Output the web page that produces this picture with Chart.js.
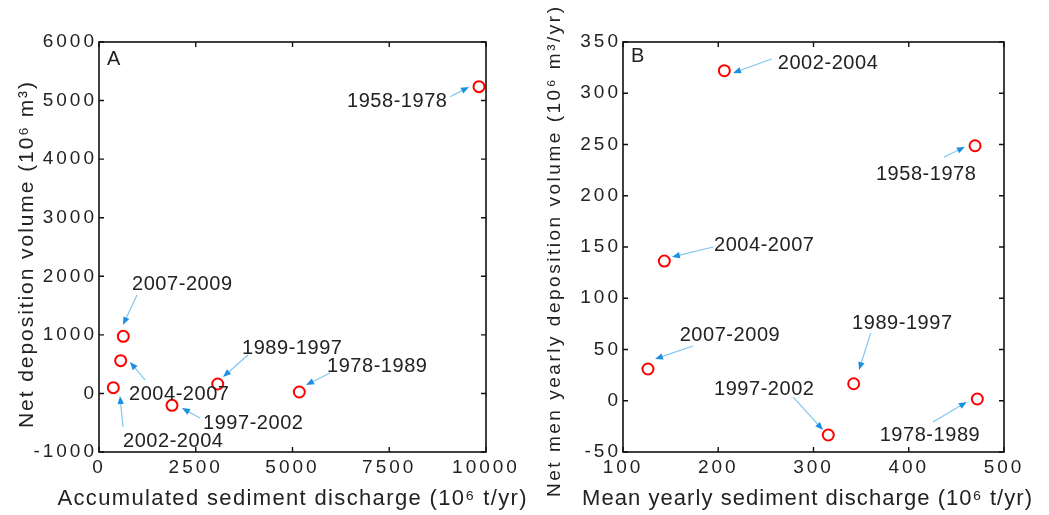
<!DOCTYPE html>
<html><head><meta charset="utf-8">
<script src="https://cdn.jsdelivr.net/npm/chart.js@4.4.0/dist/chart.umd.min.js"></script>
<style>
html,body{margin:0;padding:0;background:#fff;}
#wrap{position:relative;width:1049px;height:515px;overflow:hidden;background:#fff}
canvas{position:absolute;top:0}
#cA{left:0}
#cB{left:520px}
</style></head><body>
<div id="wrap"><canvas id="cA" width="560" height="515"></canvas><canvas id="cB" width="529" height="515"></canvas></div>
<script>
// ---- data ----
const periods = ['1958-1978','1978-1989','1989-1997','1997-2002','2002-2004','2004-2007','2007-2009'];
const accumDischarge = [9819, 5176, 3067, 1886, 370, 560, 628];     // 10^6 t/yr
const netDeposition  = [5237, 24, 161, -203, 98, 559, 975];         // 10^6 m^3
const meanDischarge  = [469.6, 472, 342.2, 315.5, 206.4, 143.4, 126.2]; // 10^6 t/yr
const meanDeposition = [248.8, 1.7, 16.6, -33.4, 322, 136.3, 31];   // 10^6 m^3/yr
const xTicksA = [0, 2500, 5000, 7500, 10000];
const yTicksA = [-1000, 0, 1000, 2000, 3000, 4000, 5000, 6000];
const xTicksB = [100, 200, 300, 400, 500];
const yTicksB = [-50, 0, 50, 100, 150, 200, 250, 300, 350];

// annotation anchors (data units): label centre, arrow start, arrow tip
const annotA = [
  {t:7700, u:5010, x0:9070, y0:5066, x1:9561, y1:5232},
  {t:7183, u:486,  x0:5969, y0:349,  x1:5349, y1:144},
  {t:4987, u:793,  x0:3850, y0:656,  x1:3204, y1:281},
  {t:3979, u:-488, x0:2610, y0:-420, x1:2145, y1:-249},
  {t:1912, u:-795, x0:620,  y0:-573, x1:543,  y1:-44},
  {t:2067, u:7,    x0:1189, y0:230,  x1:801,  y1:536},
  {t:2145, u:1885, x0:982,  y0:1680, x1:620,  y1:1168}
];
const annotB = [
  {t:418, u:222,   x0:437,   y0:237.8, x1:459,   y1:247.6},
  {t:422, u:-32.4, x0:425.5, y0:-20.7, x1:461,   y1:-1.2},
  {t:393, u:76.8,  x0:360,   y0:66,    x1:347.8, y1:30},
  {t:248, u:12.4,  x0:278.5, y0:3.7,   x1:310,   y1:-28.5},
  {t:315, u:330.5, x0:256,   y0:333.4, x1:215.5, y1:319.8},
  {t:248, u:153,   x0:194.5, y0:150,   x1:151.4, y1:140.2},
  {t:212, u:65,    x0:173.5, y0:53.4,  x1:133.6, y1:40.7}
];

const FONT = '"Liberation Sans", Arial, Helvetica, sans-serif';
const TEXT = '#222222';

function fitText(ctx, text, cx, cy, size, target, rot) {
  ctx.save();
  ctx.font = size + 'px ' + FONT;
  ctx.letterSpacing = '0px';
  const w0 = ctx.measureText(text).width;
  const n = [...text].length;
  const ls = n > 1 ? (target - w0) / (n - 1) : 0;
  ctx.letterSpacing = ls + 'px';
  ctx.translate(cx, cy);
  if (rot) ctx.rotate(-Math.PI / 2);
  ctx.textAlign = 'left';
  ctx.textBaseline = 'alphabetic';
  ctx.fillStyle = TEXT;
  ctx.fillText(text, -target / 2, 0.36 * size);
  ctx.restore();
}

function arrow(ctx, ax, ay, bx, by) {
  const ang = Math.atan2(by - ay, bx - ax);
  const L = 8, W = 3.2;
  const hx = bx - L * Math.cos(ang), hy = by - L * Math.sin(ang);
  ctx.save();
  ctx.strokeStyle = '#80c6f0';
  ctx.lineWidth = 1.2;
  ctx.beginPath(); ctx.moveTo(ax, ay); ctx.lineTo(hx, hy); ctx.stroke();
  ctx.fillStyle = '#1b8fe2';
  ctx.beginPath();
  ctx.moveTo(bx, by);
  ctx.lineTo(hx + W * Math.sin(ang), hy - W * Math.cos(ang));
  ctx.lineTo(hx - W * Math.sin(ang), hy + W * Math.cos(ang));
  ctx.closePath(); ctx.fill();
  ctx.restore();
}

function makePanel(canvasId, xs, ys, xt, yt, annot, cfg) {
  const pts = xs.map((v, i) => ({x: v, y: ys[i]}));
  const deco = {
    id: 'deco' + canvasId,
    beforeDraw(chart) { chart.ctx.letterSpacing = '3px'; },
    beforeDatasetsDraw(chart) { chart.ctx.letterSpacing = '0px'; },
    afterDraw(chart) {
      const ctx = chart.ctx;
      ctx.letterSpacing = '0px';
      const a = chart.chartArea, sx = chart.scales.x, sy = chart.scales.y;
      // frame
      ctx.save();
      ctx.strokeStyle = '#111';
      ctx.lineWidth = 1.6;
      ctx.strokeRect(a.left, a.top, a.right - a.left, a.bottom - a.top);
      ctx.lineWidth = 1.4;
      ctx.beginPath();
      sx.ticks.forEach(t => {
        const p = sx.getPixelForValue(t.value);
        ctx.moveTo(p, a.bottom); ctx.lineTo(p, a.bottom - 5);
        ctx.moveTo(p, a.top); ctx.lineTo(p, a.top + 5);
      });
      sy.ticks.forEach(t => {
        const p = sy.getPixelForValue(t.value);
        ctx.moveTo(a.left, p); ctx.lineTo(a.left + 5, p);
        ctx.moveTo(a.right, p); ctx.lineTo(a.right - 5, p);
      });
      ctx.stroke();
      ctx.restore();
      // arrows and labels
      annot.forEach((o, i) => {
        arrow(ctx, sx.getPixelForValue(o.x0), sy.getPixelForValue(o.y0),
                   sx.getPixelForValue(o.x1), sy.getPixelForValue(o.y1));
        fitText(ctx, periods[i], sx.getPixelForValue(o.t), sy.getPixelForValue(o.u), 20, 100, false);
      });
      // panel letter
      ctx.save();
      ctx.font = '20px ' + FONT;
      ctx.fillStyle = TEXT;
      ctx.textBaseline = 'middle';
      ctx.textAlign = 'left';
      ctx.fillText(cfg.letter, a.left + 8, a.top + cfg.letterDy);
      ctx.restore();
      // axis titles
      fitText(ctx, cfg.xTitle, cfg.xTitleCx, 497, 22, cfg.xTitleW, false);
      fitText(ctx, cfg.yTitle, cfg.yTitleCx, cfg.yTitleCy, cfg.yTitleSize, cfg.yTitleW, true);
    }
  };
  return new Chart(document.getElementById(canvasId), {
    type: 'scatter',
    data: { datasets: [{
      data: pts,
      pointStyle: 'circle',
      pointRadius: 5.5,
      pointHoverRadius: 5.5,
      borderColor: '#ff0000',
      backgroundColor: 'rgba(0,0,0,0)',
      pointBorderWidth: 2,
      borderWidth: 2
    }]},
    options: {
      responsive: false,
      animation: false,
      events: [],
      layout: { autoPadding: false, padding: { left: 0, top: 42, right: cfg.padRight, bottom: 0 } },
      plugins: { legend: { display: false }, tooltip: { enabled: false } },
      scales: {
        x: {
          type: 'linear', min: xt[0], max: xt[xt.length - 1],
          afterBuildTicks: s => { s.ticks = xt.map(v => ({value: v})); },
          afterFit: s => { s.height = 63; },
          grid: { display: false, drawTicks: false },
          border: { display: false },
          ticks: { padding: 4, color: TEXT, font: { family: FONT, size: 19 }, maxRotation: 0, autoSkip: false,
                   callback: v => String(v) },
          title: { display: false }
        },
        y: {
          type: 'linear', min: yt[0], max: yt[yt.length - 1],
          afterBuildTicks: s => { s.ticks = yt.map(v => ({value: v})); },
          afterFit: s => { s.width = cfg.yWidth; },
          grid: { display: false, drawTicks: false },
          border: { display: false },
          ticks: { padding: 2, color: TEXT, font: { family: FONT, size: 19 }, autoSkip: false,
                   callback: v => String(v) },
          title: { display: false }
        }
      }
    },
    plugins: [deco]
  });
}

makePanel('cA', accumDischarge, netDeposition, xTicksA, yTicksA, annotA, {
  letter: 'A', letterDy: 17, padRight: 74, yWidth: 99,
  xTitle: 'Accumulated sediment discharge (10\u2076 t/yr)', xTitleCx: 292, xTitleW: 469,
  yTitle: 'Net deposition volume (10\u2076 m\u00b3)', yTitleCx: 25, yTitleCy: 255, yTitleSize: 21, yTitleW: 346
});
makePanel('cB', meanDischarge, meanDeposition, xTicksB, yTicksB, annotB, {
  letter: 'B', letterDy: 14, padRight: 45, yWidth: 103,
  xTitle: 'Mean yearly sediment discharge (10\u2076 t/yr)', xTitleCx: 287, xTitleW: 450,
  yTitle: 'Net men yearly deposition volume (10\u2076 m\u00b3/yr)', yTitleCx: 33, yTitleCy: 252, yTitleSize: 19, yTitleW: 490
});
</script>
</body></html>
